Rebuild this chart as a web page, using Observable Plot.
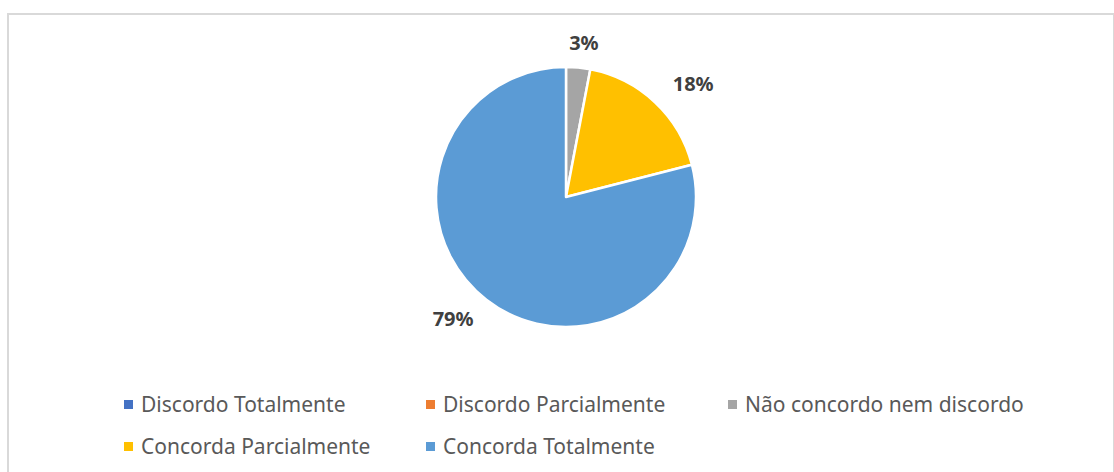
<!DOCTYPE html>
<html><head><meta charset="utf-8">
<script src="https://cdn.jsdelivr.net/npm/d3@7"></script>
<script src="https://cdn.jsdelivr.net/npm/@observablehq/plot@0.6"></script>
<style>
body{margin:0;background:#fff;font-family:"Noto Sans",sans-serif;}
#frame{position:absolute;left:7px;top:13px;width:1104px;height:520px;border:2px solid #d9d9d9;box-sizing:content-box;}
#chart{position:absolute;left:0;top:0;}
#legend{position:absolute;left:124px;top:383px;width:930px;}
.lg-swatches{display:flex !important;flex-wrap:wrap !important;margin:0 !important;font-family:"Noto Sans",sans-serif !important;}
.lg-swatch{width:302px;margin:0 !important;height:42px;display:inline-flex !important;align-items:center;font-size:21px !important;color:#595959;font-family:"Noto Sans",sans-serif !important;white-space:nowrap;}
.lg-swatch > svg{margin-right:8px !important;}
</style>
</head><body>
<div id="frame"></div>
<div id="chart"></div>
<div id="legend"></div>
<script>
const categories = ["Discordo Totalmente","Discordo Parcialmente","Não concordo nem discordo","Concorda Parcialmente","Concorda Totalmente"];
const values = [0, 0, 3, 18, 79];
const colors = ["#4472C4","#ED7D31","#A5A5A5","#FFC000","#5B9BD5"];

const rows = categories.map((c,i)=>({category:c, value:values[i]}));
const W = 1114, H = 380, cx = 566, cy = 197, R = 130;
const colorScale = Plot.scale({color:{type:"ordinal", domain:categories, range:colors}});
const arcs = d3.pie().sort(null).value(d=>d.value)(rows);
const labels = arcs.filter(a=>a.data.value>0).map(a=>({mid:(a.startAngle+a.endAngle)/2, text:a.data.value+"%"}));

const pieMark = (index, scales) => {
  const sx = scales && scales.x ? scales.x : v => v + cx;
  const sy = scales && scales.y ? scales.y : v => v + cy;
  const x0 = sx(0), y0 = sy(0), r = sx(R) - sx(0);
  const arc = d3.arc().innerRadius(0).outerRadius(r);
  const g = d3.create("svg:g").attr("transform", `translate(${x0},${y0})`);
  g.selectAll("path").data(arcs.filter(a=>a.data.value>0)).join("path")
    .attr("d", arc)
    .attr("fill", a => colorScale.apply(a.data.category))
    .attr("stroke", "#fff").attr("stroke-width", 2.5).attr("stroke-linejoin","round");
  return g.node();
};

const chart = Plot.plot({
  width: W, height: H, margin: 0,
  style: {background:"transparent", fontFamily:"'Noto Sans', sans-serif"},
  x: {domain:[-cx, W-cx], axis:null},
  y: {domain:[-cy, H-cy], reverse:true, axis:null},
  marks: [
    pieMark,
    Plot.text(labels, {x: d => 185*Math.sin(d.mid), y: d => -155*Math.cos(d.mid), text:"text",
      fontSize:20, fontWeight:"bold", fill:"#404040", textAnchor:"middle"})
  ]
});
document.getElementById("chart").appendChild(chart);

const legend = Plot.legend({
  color:{type:"ordinal", domain:categories, range:colors},
  legend:"swatches", swatchSize:9, className:"lg"
});
document.getElementById("legend").appendChild(legend);
</script>
</body></html>
